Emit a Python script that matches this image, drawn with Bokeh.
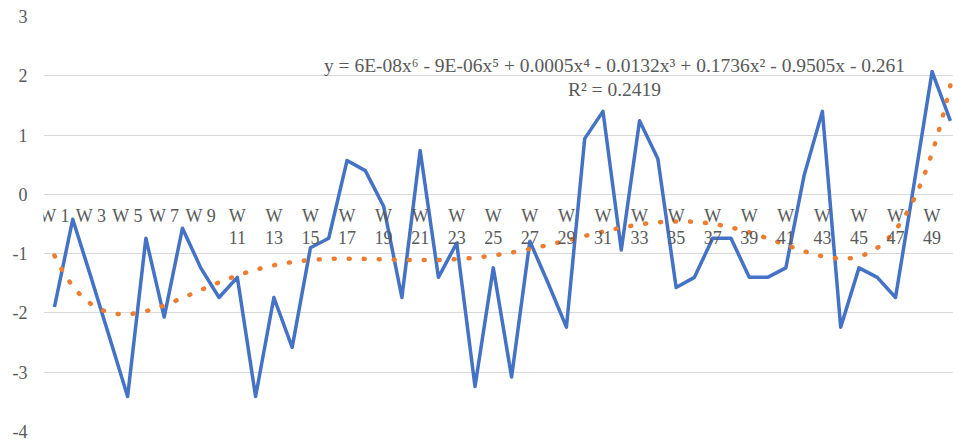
import numpy as np
from bokeh.plotting import figure
from bokeh.models import ColumnDataSource, Label, FixedTicker, Range1d
from bokeh.core.properties import value
from bokeh.embed import file_html
from bokeh.resources import INLINE

# ---- data ----
weeks = ["W 1", "W 2", "W 3", "W 4", "W 5", "W 6", "W 7", "W 8", "W 9", "W 10",
         "W 11", "W 12", "W 13", "W 14", "W 15", "W 16", "W 17", "W 18", "W 19", "W 20",
         "W 21", "W 22", "W 23", "W 24", "W 25", "W 26", "W 27", "W 28", "W 29", "W 30",
         "W 31", "W 32", "W 33", "W 34", "W 35", "W 36", "W 37", "W 38", "W 39", "W 40",
         "W 41", "W 42", "W 43", "W 44", "W 45", "W 46", "W 47", "W 48", "W 49", "W 50"]
values = [-1.9, -0.42, -1.4, -2.4, -3.41, -0.74, -2.07, -0.57, -1.24, -1.74,
          -1.4, -3.41, -1.74, -2.58, -0.9, -0.74, 0.57, 0.4, -0.2, -1.74,
          0.74, -1.4, -0.82, -3.24, -1.24, -3.08, -0.79, -1.5, -2.24, 0.94,
          1.4, -0.94, 1.24, 0.6, -1.57, -1.4, -0.74, -0.74, -1.4, -1.4,
          -1.24, 0.32, 1.4, -2.24, -1.24, -1.4, -1.74, 0.15, 2.07, 1.24]
y_ticks = [-4, -3, -2, -1, 0, 1, 2, 3]
y_tick_labels = ["-4", "-3", "-2", "-1", "0", "1", "2", "3"]
equation = "y = 6E-08x\u2076 - 9E-06x\u2075 + 0.0005x\u2074 - 0.0132x\u00b3 + 0.1736x\u00b2 - 0.9505x - 0.261"
r2_text = "R\u00b2 = 0.2419"

# ---- derived ----
xs = list(range(1, len(weeks) + 1))
coef = np.polyfit(xs, values, 6)
xt = np.linspace(1, len(weeks), 300)
yt = np.polyval(coef, xt)

lab_x, lab_top, lab_bot = [], [], []
for i, w in enumerate(weeks):
    if i % 2 == 0:
        num = w.split(" ")[1]
        lab_x.append(xs[i])
        if len(num) == 1:
            lab_top.append(w)
            lab_bot.append("")
        else:
            lab_top.append("W")
            lab_bot.append(num)

FONT = "Liberation Serif"
GRAY = "#595959"

p = figure(width=953, height=441, output_backend="svg", toolbar_location=None,
           x_range=Range1d(0.4, 50.17), y_range=Range1d(-4, 3),
           x_axis_location=None, min_border_left=43, min_border_right=0,
           min_border_top=16, min_border_bottom=10)
p.outline_line_color = None
p.xgrid.visible = False
p.ygrid.grid_line_color = "#D9D9D9"
p.ygrid.grid_line_width = 1
p.yaxis.ticker = FixedTicker(ticks=y_ticks)
p.yaxis.major_label_overrides = {t: s for t, s in zip(y_ticks, y_tick_labels)}
p.yaxis.axis_line_color = None
p.yaxis.major_tick_line_color = None
p.yaxis.minor_tick_line_color = None
p.yaxis.major_tick_out = 0
p.yaxis.major_label_standoff = 16
p.yaxis.major_label_text_font = FONT
p.yaxis.major_label_text_font_size = "18px"
p.yaxis.major_label_text_color = GRAY

p.line(xs, values, line_color="#4472C4", line_width=3.5, line_join="round")
p.line(xt, yt, line_color="#ED7D31", line_width=4.5, line_dash="1 14", line_cap="round")

src = ColumnDataSource(dict(x=lab_x, y=[0] * len(lab_x), top=lab_top, bot=lab_bot))
p.text(x="x", y="y", text="top", source=src, y_offset=22, text_align="center",
       text_baseline="middle", text_font=value(FONT), text_font_size="18px", text_color=GRAY)
p.text(x="x", y="y", text="bot", source=src, y_offset=43, text_align="center",
       text_baseline="middle", text_font=value(FONT), text_font_size="18px", text_color=GRAY)

p.add_layout(Label(x=571, y=366, x_units="screen", y_units="screen", text=equation,
                   text_align="center", text_baseline="middle", text_font=FONT,
                   text_font_size="19.5px", text_color=GRAY))
p.add_layout(Label(x=571, y=342, x_units="screen", y_units="screen", text=r2_text,
                   text_align="center", text_baseline="middle", text_font=FONT,
                   text_font_size="19.5px", text_color=GRAY))

open("out.html", "w").write(file_html(p, INLINE))
